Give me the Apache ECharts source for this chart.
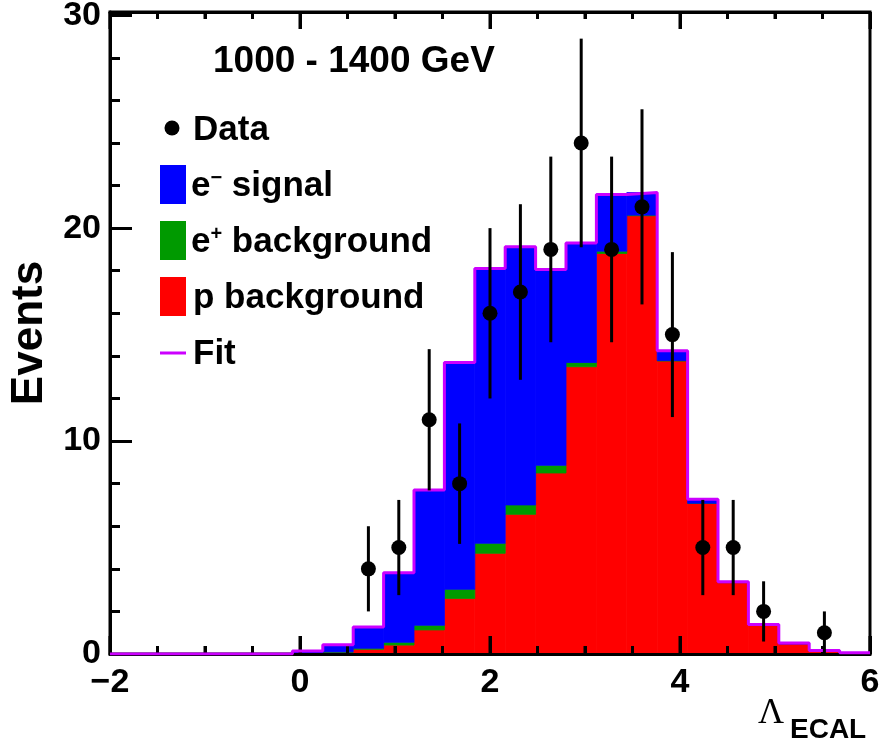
<!DOCTYPE html>
<html>
<head>
<meta charset="utf-8">
<script src="https://cdn.jsdelivr.net/npm/echarts@6/dist/echarts.min.js"></script>
<style>
  html, body { margin: 0; padding: 0; background: #ffffff; }
  #chart { width: 881px; height: 748px; background: #ffffff; }
</style>
</head>
<body>
<div id="chart"></div>
<script>
// Binning of the Lambda_ECAL histogram: 25 bins from -2 to 6
const xMin = -2;
const xMax = 6;
const binWidth = 0.32;
const yMax = 30.15;

const xTickLabels = [-2, 0, 2, 4, 6];
const yTickLabels = [0, 10, 20, 30];
const xMinorStep = 0.5;

// Fitted template contributions per bin (events)
const pBackground = [0, 0, 0, 0, 0, 0, 0.02, 0.08, 0.22, 0.42, 1.13, 2.61, 4.73, 6.56, 8.50, 13.49, 18.81, 20.58, 13.76, 7.07, 3.35, 1.35, 0.47, 0.14, 0.04];
const ePlusBackground = [0, 0, 0, 0, 0, 0, 0, 0.02, 0.05, 0.13, 0.22, 0.43, 0.47, 0.44, 0.36, 0.20, 0.11, 0.03, 0.02, 0.01, 0, 0, 0, 0, 0];
const eMinusSignal = [0, 0, 0, 0, 0, 0, 0.12, 0.34, 1.00, 3.27, 6.35, 10.65, 12.90, 12.12, 9.20, 5.61, 2.66, 1.06, 0.46, 0.19, 0.04, 0.04, 0.05, 0.03, 0.02];

// Observed event counts per bin
const dataCounts = [0, 0, 0, 0, 0, 0, 0, 0, 4, 5, 11, 8, 16, 17, 19, 24, 19, 21, 15, 5, 5, 2, 0, 1, 0];

const FONT = '"Liberation Sans", Arial, Helvetica, sans-serif';
const SERIF = '"Liberation Serif", "Times New Roman", serif';
const COLORS = { signal: '#0000ff', ePlus: '#009a00', proton: '#ff0000', fit: '#cc00ff', data: '#000000' };

const binLow = k => xMin + binWidth * k;

// Build [lo, hi, base, top] items for one layer of the stack
function layerItems(baseArrays, values) {
  const items = [];
  values.forEach((v, k) => {
    let base = 0;
    baseArrays.forEach(a => { base += a[k]; });
    if (v > 0) items.push([binLow(k), binLow(k + 1), base, base + v]);
  });
  return items;
}

function stackRender(color) {
  return function (params, api) {
    const p0 = api.coord([api.value(0), api.value(3)]);
    const p1 = api.coord([api.value(1), api.value(2)]);
    return {
      type: 'rect',
      shape: { x: p0[0], y: p0[1], width: p1[0] - p0[0], height: p1[1] - p0[1] },
      style: { fill: color, stroke: color, lineWidth: 0.8 }
    };
  };
}

// Fit outline: sum of all components as a step curve
const fitLine = [];
pBackground.forEach((v, k) => {
  fitLine.push([binLow(k), v + ePlusBackground[k] + eMinusSignal[k]]);
});
fitLine.push([xMax, fitLine[fitLine.length - 1][1]]);

// Data points with Poisson (sqrt N) error bars, empty bins omitted
const dataPoints = [];
const errorBars = [];
dataCounts.forEach((n, k) => {
  if (n > 0) {
    const xc = binLow(k) + binWidth / 2;
    const e = Math.sqrt(n);
    dataPoints.push([xc, n]);
    errorBars.push([xc, n - e, n + e]);
  }
});

// Inward tick marks on the bottom and top frame edges: [x, y, isMajor]
const frameTicks = [];
for (let x = xMin; x <= xMax + 1e-9; x += xMinorStep) {
  frameTicks.push([x, 1, xTickLabels.indexOf(Math.round(x * 100) / 100) >= 0 ? 1 : 0]);
}

const chart = echarts.init(document.getElementById('chart'), null, { renderer: 'canvas' });

const tickLabelStyle = { fontFamily: FONT, fontWeight: 'bold', fontSize: 34, color: '#000' };

function xFrameAxis(position, interval, tickLen, withLine, label) {
  return {
    type: 'value', min: xMin, max: xMax, interval: interval, position: position, z: 10,
    axisLine: { show: withLine, onZero: false, lineStyle: { color: '#000', width: 3 } },
    axisTick: { show: true, inside: true, length: tickLen, lineStyle: { color: '#000', width: 3 } },
    splitLine: { show: false },
    axisLabel: label || { show: false }
  };
}
function yFrameAxis(interval, tickLen, withLine, extra) {
  return Object.assign({
    type: 'value', min: 0, max: yMax, interval: interval, position: 'left', z: 10,
    axisLine: { show: withLine, onZero: false, lineStyle: { color: '#000', width: 3 } },
    axisTick: { show: true, inside: true, length: tickLen, lineStyle: { color: '#000', width: 3 } },
    splitLine: { show: false },
    axisLabel: { show: false }
  }, extra || {});
}

chart.setOption({
  animation: false,
  grid: {
    left: 110, right: 11, top: 12, bottom: 94, outerBoundsMode: 'none',
    show: true, borderColor: '#000', borderWidth: 3, backgroundColor: 'transparent'
  },
  xAxis: [
    xFrameAxis('bottom', 2, 18, true, {
      ...tickLabelStyle, margin: 12,
      formatter: v => (xTickLabels.indexOf(v) >= 0 ? String(v).replace('-', '\u2212') : '')
    }),
    xFrameAxis('bottom', xMinorStep, 8, false),
    xFrameAxis('top', 2, 17, true),
    xFrameAxis('top', xMinorStep, 7, false)
  ],
  yAxis: [
    yFrameAxis(10, 22, true, {
      name: 'Events', nameLocation: 'middle', nameGap: 54,
      nameTextStyle: { fontFamily: FONT, fontWeight: 'bold', fontSize: 44, color: '#000' },
      axisTick: { show: true, inside: true, length: 22, customValues: yTickLabels, lineStyle: { color: '#000', width: 3 } },
      axisLabel: { ...tickLabelStyle, margin: 9, customValues: yTickLabels }
    }),
    // minor ticks every 2 events
    yFrameAxis(2, 10, false)
  ],
  series: [
    {
      name: 'p background', type: 'custom', z: 2,
      renderItem: stackRender(COLORS.proton),
      data: layerItems([], pBackground),
      encode: { x: [0, 1], y: [2, 3] }
    },
    {
      name: 'e+ background', type: 'custom', z: 3,
      renderItem: stackRender(COLORS.ePlus),
      data: layerItems([pBackground], ePlusBackground),
      encode: { x: [0, 1], y: [2, 3] }
    },
    {
      name: 'e- signal', type: 'custom', z: 4,
      renderItem: stackRender(COLORS.signal),
      data: layerItems([pBackground, ePlusBackground], eMinusSignal),
      encode: { x: [0, 1], y: [2, 3] }
    },
    {
      name: 'frame ticks', type: 'custom', z: 11, silent: true,
      renderItem: function (params, api) {
        const major = api.value(2) === 1;
        const bot = api.coord([api.value(0), 0]);
        const top = api.coord([api.value(0), yMax]);
        const lb = major ? 18 : 8;
        const lt = major ? 17 : 7;
        return {
          type: 'group',
          children: [
            { type: 'line', shape: { x1: bot[0], y1: bot[1], x2: bot[0], y2: bot[1] - lb }, style: { stroke: '#000', lineWidth: 3 } },
            { type: 'line', shape: { x1: top[0], y1: top[1], x2: top[0], y2: top[1] + lt }, style: { stroke: '#000', lineWidth: 3 } }
          ]
        };
      },
      data: frameTicks,
      encode: { x: 0, y: 1 }
    },
    {
      name: 'Fit', type: 'line', step: 'end', z: 12,
      showSymbol: false, symbol: 'none',
      lineStyle: { color: COLORS.fit, width: 3 },
      data: fitLine
    },
    {
      name: 'Data errors', type: 'custom', z: 14,
      renderItem: function (params, api) {
        const top = api.coord([api.value(0), api.value(2)]);
        const bot = api.coord([api.value(0), Math.max(0, api.value(1))]);
        return {
          type: 'line',
          shape: { x1: top[0], y1: top[1], x2: bot[0], y2: bot[1] },
          style: { stroke: '#000', lineWidth: 3 }
        };
      },
      data: errorBars,
      encode: { x: 0, y: [1, 2] }
    },
    {
      name: 'Data', type: 'scatter', z: 15,
      symbol: 'circle', symbolSize: 15,
      itemStyle: { color: COLORS.data, opacity: 1 },
      data: dataPoints
    }
  ],
  graphic: [
    { type: 'text', x: 213, y: 62, z: 20,
      style: { text: '1000 - 1400 GeV', font: 'bold 37px ' + FONT, fill: '#000', verticalAlign: 'middle' } },

    { type: 'circle', shape: { cx: 172, cy: 128, r: 7.5 }, style: { fill: '#000' }, z: 20 },
    { type: 'text', x: 193, y: 130, z: 20,
      style: { text: 'Data', font: 'bold 35px ' + FONT, fill: '#000', verticalAlign: 'middle' } },

    { type: 'rect', shape: { x: 160, y: 165, width: 26, height: 39 }, style: { fill: COLORS.signal }, z: 20 },
    { type: 'text', x: 191, y: 186, z: 20,
      style: {
        text: '{b|e}{s|\u2212}{b| signal}', verticalAlign: 'middle', fill: '#000',
        rich: {
          b: { fontFamily: FONT, fontWeight: 'bold', fontSize: 35 },
          s: { fontFamily: FONT, fontWeight: 'bold', fontSize: 20, verticalAlign: 'top' }
        }
      } },

    { type: 'rect', shape: { x: 160, y: 221, width: 26, height: 39 }, style: { fill: COLORS.ePlus }, z: 20 },
    { type: 'text', x: 191, y: 242, z: 20,
      style: {
        text: '{b|e}{s|+}{b| background}', verticalAlign: 'middle', fill: '#000',
        rich: {
          b: { fontFamily: FONT, fontWeight: 'bold', fontSize: 35 },
          s: { fontFamily: FONT, fontWeight: 'bold', fontSize: 20, verticalAlign: 'top' }
        }
      } },

    { type: 'rect', shape: { x: 160, y: 277, width: 26, height: 39 }, style: { fill: COLORS.proton }, z: 20 },
    { type: 'text', x: 193, y: 298, z: 20,
      style: { text: 'p background', font: 'bold 35px ' + FONT, fill: '#000', verticalAlign: 'middle' } },

    { type: 'line', shape: { x1: 160, y1: 353, x2: 186, y2: 353 }, style: { stroke: COLORS.fit, lineWidth: 3 }, z: 20 },
    { type: 'text', x: 193, y: 354, z: 20,
      style: { text: 'Fit', font: 'bold 35px ' + FONT, fill: '#000', verticalAlign: 'middle' } },

    { type: 'text', x: 758, y: 714, z: 20,
      style: { text: '\u039B', font: '36px ' + SERIF, fill: '#000', verticalAlign: 'middle' } },
    { type: 'text', x: 790, y: 730, z: 20,
      style: { text: 'ECAL', font: 'bold 28px ' + FONT, fill: '#000', verticalAlign: 'middle' } }
  ]
});
</script>
</body>
</html>
